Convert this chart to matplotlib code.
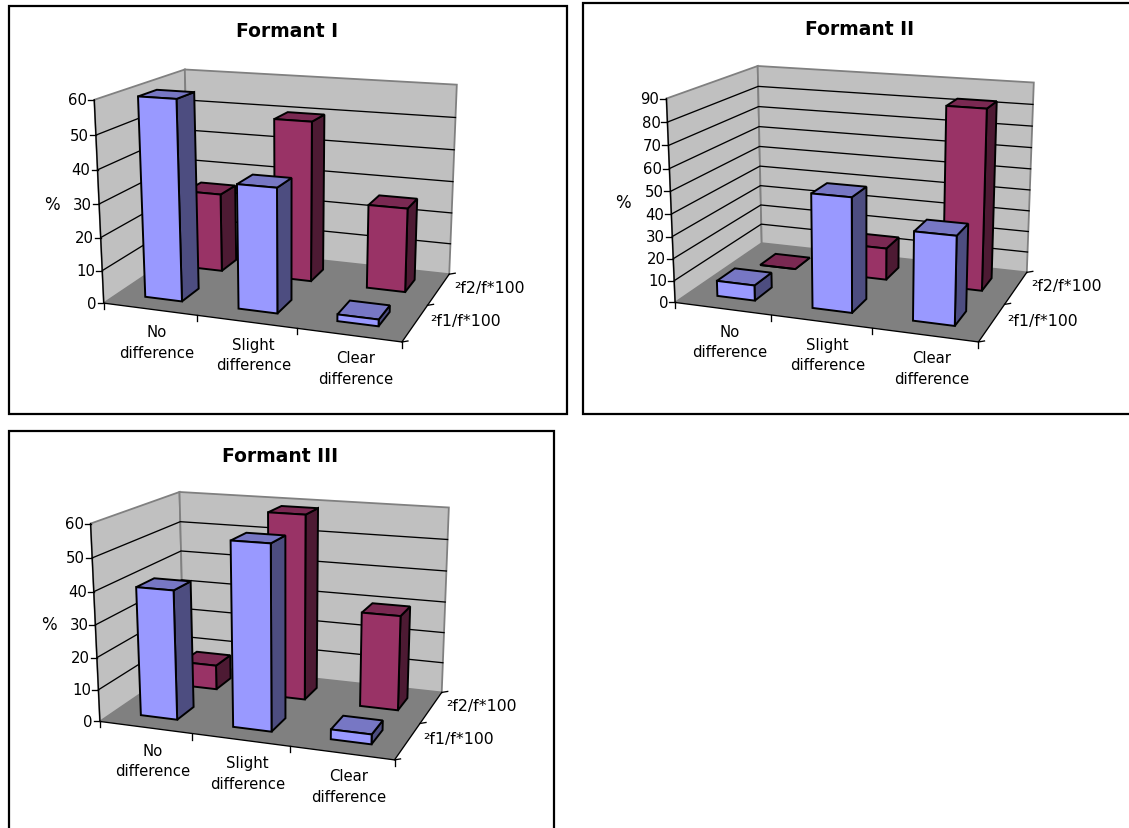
import matplotlib
matplotlib.use("Agg")
import matplotlib.pyplot as plt
from matplotlib.patches import Polygon, Rectangle
import numpy as np

categories = [["No", "difference"], ["Slight", "difference"], ["Clear", "difference"]]
series_names = ["²f1/f*100", "²f2/f*100"]
titles = ["Formant I", "Formant II", "Formant III"]
axis_max = [60, 90, 60]
axis_step = 10

# percent per category, front row then back row
f1_formant1 = [60, 37, 2]
f2_formant1 = [25, 50, 26]
f1_formant2 = [7, 51, 39]
f2_formant2 = [0, 15, 83]
f1_formant3 = [40, 56, 3]
f2_formant3 = [8, 59, 30]

BLUE = ("#9999FF", "#7777C4", "#4D4D80")
RED = ("#993366", "#7A2952", "#4D1A33")
WALL = "#C0C0C0"
FLOOR = "#808080"
BAR_WIDTH = 0.4

# chart boxes: frame, box corners in pixels (category, series, value each 0..1)
panels = [
    dict(frame=(9, 7, 567, 415), title_xy=(287, 31), pct_xy=(52, 205),
         corners={(0, 0, 0): (103, 303), (0, 0, 1): (95, 101), (0, 1, 1): (184, 70),
                  (1, 1, 1): (457, 86), (1, 1, 0): (449, 274), (1, 0, 0): (402, 344),
                  (0, 1, 0): (190, 248)}),
    dict(frame=(583, 4, 1135, 415), title_xy=(860, 29), pct_xy=(623, 203),
         corners={(0, 0, 0): (675, 303), (0, 0, 1): (667, 99), (0, 1, 1): (757, 67),
                  (1, 1, 1): (1034, 84), (1, 1, 0): (1027, 272), (1, 0, 0): (978, 344),
                  (0, 1, 0): (762, 245)}),
    dict(frame=(9, 432, 554, 835), title_xy=(280, 456), pct_xy=(49, 625),
         corners={(0, 0, 0): (100, 722), (0, 0, 1): (91, 524), (0, 1, 1): (179, 493),
                  (1, 1, 1): (449, 509), (1, 1, 0): (442, 692), (1, 0, 0): (394, 762),
                  (0, 1, 0): (184, 666)}),
]
rows = [(f1_formant1, f2_formant1), (f1_formant2, f2_formant2), (f1_formant3, f2_formant3)]


def fit_projection(corners):
    # perspective camera matrix through the known box corners
    A, b = [], []
    for (X, Y, Z), (u, v) in corners.items():
        A.append([X, Y, Z, 1, 0, 0, 0, 0, -u * X, -u * Y, -u * Z])
        A.append([0, 0, 0, 0, X, Y, Z, 1, -v * X, -v * Y, -v * Z])
        b += [u, v]
    h = np.linalg.lstsq(np.array(A, float), np.array(b, float), rcond=None)[0]
    return np.append(h, 1).reshape(3, 4)


def draw_panel(ax, panel, title, vmax, row_values):
    P = fit_projection(panel["corners"])

    def proj(c, s, v):
        q = P @ np.array([c, s, v / vmax, 1.0])
        return q[0] / q[2], q[1] / q[2]

    x0, y0, x1, y1 = panel["frame"]
    ax.add_patch(Rectangle((x0, y0), x1 - x0, y1 - y0, fc="white", ec="black", lw=1.6, zorder=1))

    # walls and floor
    def face(pts, fc, ec="none", lw=0, z=2):
        ax.add_patch(Polygon([proj(*p) for p in pts], closed=True, fc=fc, ec=ec, lw=lw,
                             joinstyle="miter", zorder=z))

    face([(0, 0, 0), (0, 1, 0), (0, 1, vmax), (0, 0, vmax)], WALL, "#808080", 1.3)
    face([(0, 1, 0), (1, 1, 0), (1, 1, vmax), (0, 1, vmax)], WALL, "#808080", 1.3)
    face([(0, 0, 0), (1, 0, 0), (1, 1, 0), (0, 1, 0)], FLOOR)

    ticks = np.arange(0, vmax + 1, axis_step)
    for t in ticks[1:-1]:
        a, b, c = proj(0, 0, t), proj(0, 1, t), proj(1, 1, t)
        ax.plot([a[0], b[0], c[0]], [a[1], b[1], c[1]], color="black", lw=0.95, zorder=3)

    # axes and ticks
    a, b = proj(0, 0, 0), proj(0, 0, vmax)
    ax.plot([a[0], b[0]], [a[1], b[1]], color="black", lw=0.95, zorder=3)
    for t in ticks:
        p = proj(0, 0, t)
        ax.plot([p[0] - 6, p[0]], [p[1], p[1]], color="black", lw=0.95, zorder=3)
        ax.text(p[0] - 7, p[1], str(t), ha="right", va="center", fontsize=10.7, color="black", zorder=5)

    a, b, c = proj(0, 0, 0), proj(1, 0, 0), proj(1, 1, 0)
    ax.plot([a[0], b[0], c[0]], [a[1], b[1], c[1]], color="black", lw=0.95, zorder=3)
    for i in range(4):
        p = proj(i / 3, 0, 0)
        ax.plot([p[0], p[0]], [p[1], p[1] + 6], color="black", lw=0.95, zorder=3)
    for j in range(3):
        p = proj(1, j / 2, 0)
        ax.plot([p[0], p[0] + 6], [p[1], p[1] - 1], color="black", lw=0.95, zorder=3)

    for i, lines in enumerate(categories):
        p = proj((i + 0.5) / 3, 0, 0)
        ax.text(p[0] + 7, p[1] + 33, "\n".join(lines), ha="center", va="center", fontsize=10.7,
                linespacing=1.45, zorder=5)
    for j, name in enumerate(series_names):
        p = proj(1, (j + 0.5) / 2, 0)
        ax.text(p[0] + 15, p[1] - 2, name, ha="left", va="center", fontsize=11.3, zorder=5)

    # back row first so the front row covers it
    gap = (1 - BAR_WIDTH) / 2
    for j in [1, 0]:
        colours = BLUE if j == 0 else RED
        for i, value in enumerate(row_values[j]):
            c0, c1 = (i + gap) / 3, (i + 1 - gap) / 3
            s0, s1 = (j + gap) / 2, (j + 1 - gap) / 2
            kw = dict(ec="black", lw=1.4, z=4)
            face([(c1, s0, 0), (c1, s1, 0), (c1, s1, value), (c1, s0, value)], colours[2], **kw)
            face([(c0, s0, value), (c1, s0, value), (c1, s1, value), (c0, s1, value)], colours[1], **kw)
            face([(c0, s0, 0), (c1, s0, 0), (c1, s0, value), (c0, s0, value)], colours[0], **kw)

    ax.text(*panel["title_xy"], title, ha="center", va="center", fontsize=13.5, fontweight="bold", zorder=5)
    ax.text(*panel["pct_xy"], "%", ha="center", va="center", fontsize=12, zorder=5)


fig = plt.figure(figsize=(11.29, 8.29), dpi=100)
ax = fig.add_axes([0, 0, 1, 1])
ax.set_xlim(0, 1129)
ax.set_ylim(829, 0)
ax.axis("off")

for panel, title, vmax, row_values in zip(panels, titles, axis_max, rows):
    draw_panel(ax, panel, title, vmax, row_values)

fig.savefig("out.png", dpi=100)
